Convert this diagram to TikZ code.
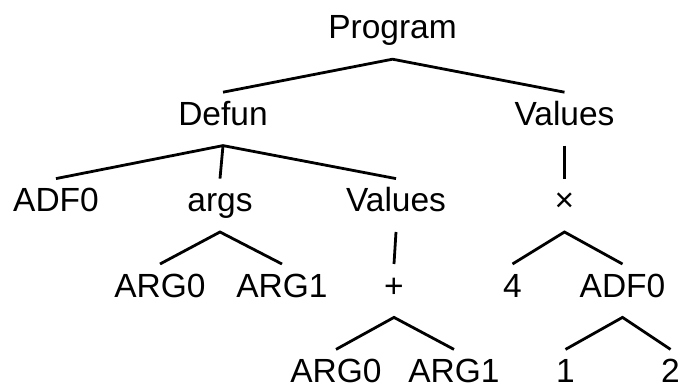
\documentclass[tikz,border=0pt]{standalone}
\usepackage{fontspec}
\setmainfont{Liberation Sans}
\usetikzlibrary{positioning}

\newcommand\tokfont{\fontsize{33.5}{40}\selectfont}
\tikzset{
    tok/.style={font=\tokfont, inner xsep=0pt, inner ysep=9pt,
        text height=24pt, text depth=11pt},
    % bottom row: box hugs the letters
    leaf/.style={tok, inner ysep=0pt, text depth=0pt},
    branch/.style={line width=2.8pt}
}

\begin{document}
\begin{tikzpicture}[x=1pt, y=1pt]
\useasboundingbox (0,0) rectangle (681,-385);

\node[tok, anchor=base] (prog) at (392.5,-39) {Program};

\node[tok] (defun) [below=33pt of prog, xshift=-169.5pt] {Defun};
\node[tok] (vals)  [below=33pt of prog, xshift=172pt] {Values};

\node[tok] (adf)   [below=33pt of defun, xshift=-167pt] {ADF0};
\node[tok] (args)  [below=33pt of defun, xshift=-3pt] {args};
\node[tok] (vals2) [below=33pt of defun, xshift=173pt] {Values};
\node[tok] (times) [below=33pt of vals] {×};

\node[tok] (arg0)  [below=32pt of args, xshift=-60pt] {ARG0};
\node[tok] (arg1)  [below=32pt of args, xshift=62pt] {ARG1};
\node[tok] (plus)  [below=32pt of vals2, xshift=-2pt] {+};
\node[tok] (four)  [below=32pt of times, xshift=-52pt] {4};
\node[tok] (adf2)  [below=32pt of times, xshift=58pt] {ADF0};

\node[leaf] (parg0) [below=41pt of plus, xshift=-58pt] {ARG0};
\node[leaf] (parg1) [below=41pt of plus, xshift=60pt] {ARG1};
\node[leaf] (one)   [below=41pt of adf2, xshift=-57pt] {1};
\node[leaf] (two)   [below=41pt of adf2, xshift=48pt] {2};

\draw[branch] (defun.north) -- (prog.south) -- (vals.north);
\draw[branch] (adf.north) -- (defun.south) -- (vals2.north);
\draw[branch] (defun.south) -- (args.north);
\draw[branch] (vals.south) -- (times.north);
\draw[branch] (arg0.north) -- (args.south) -- (arg1.north);
\draw[branch] (vals2.south) -- (plus.north);
\draw[branch] (four.north) -- (times.south) -- (adf2.north);
\draw[branch] ([yshift=9pt]parg0.north) -- (plus.south) -- ([yshift=9pt]parg1.north);
\draw[branch] ([yshift=9pt]one.north) -- (adf2.south) -- ([yshift=9pt]two.north);
\end{tikzpicture}
\end{document}
